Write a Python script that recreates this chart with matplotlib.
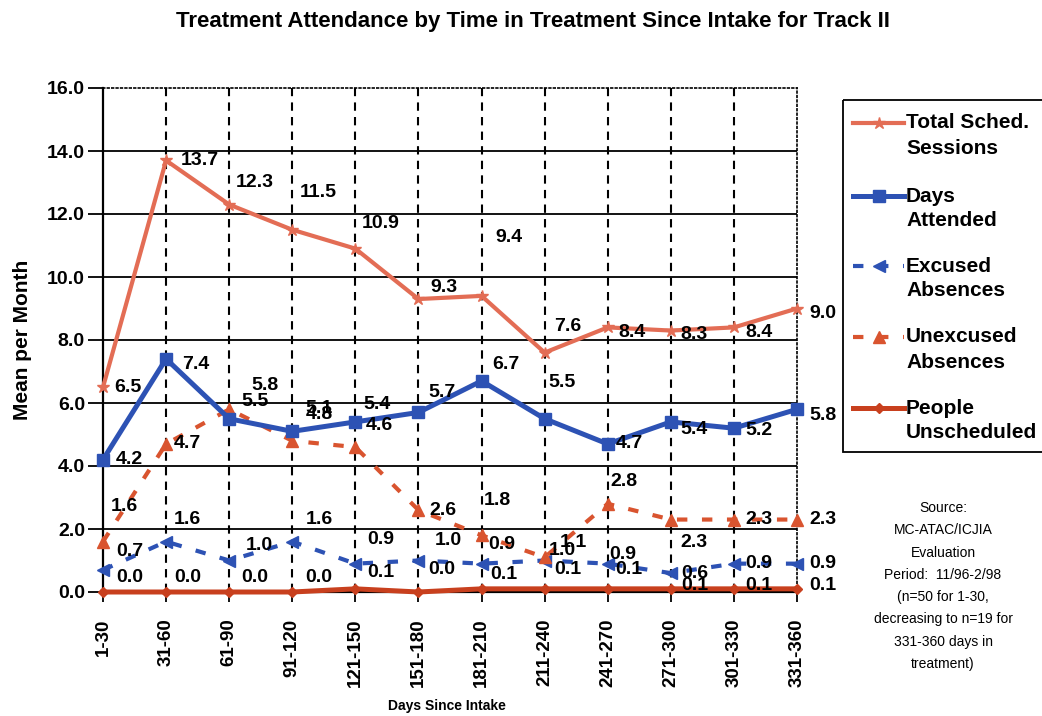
import matplotlib
matplotlib.use('Agg')
import matplotlib.pyplot as plt
from matplotlib.lines import Line2D
from matplotlib.patches import Rectangle

# ---------------- data ----------------
categories = ['1-30', '31-60', '61-90', '91-120', '121-150', '151-180',
              '181-210', '211-240', '241-270', '271-300', '301-330', '331-360']
total_sched = [6.5, 13.7, 12.3, 11.5, 10.9, 9.3, 9.4, 7.6, 8.4, 8.3, 8.4, 9.0]
days_attended = [4.2, 7.4, 5.5, 5.1, 5.4, 5.7, 6.7, 5.5, 4.7, 5.4, 5.2, 5.8]
excused_abs = [0.7, 1.6, 1.0, 1.6, 0.9, 1.0, 0.9, 1.0, 0.9, 0.6, 0.9, 0.9]
unexcused_abs = [1.6, 4.7, 5.8, 4.8, 4.6, 2.6, 1.8, 1.1, 2.8, 2.3, 2.3, 2.3]
people_unsched = [0.0, 0.0, 0.0, 0.0, 0.1, 0.0, 0.1, 0.1, 0.1, 0.1, 0.1, 0.1]
y_ticks = [0, 2, 4, 6, 8, 10, 12, 14, 16]

title = 'Treatment Attendance by Time in Treatment Since Intake for Track II'
legend_labels = [('Total Sched.', 'Sessions'), ('Days', 'Attended'),
                 ('Excused', 'Absences'), ('Unexcused', 'Absences'),
                 ('People', 'Unscheduled')]
source_text = ('Source:\nMC-ATAC/ICJIA\nEvaluation\nPeriod:  11/96-2/98\n'
               '(n=50 for 1-30,\ndecreasing to n=19 for\n331-360 days in\ntreatment)')

# ---------------- styles ----------------
C_TOTAL = '#E36D55'
C_DAYS = '#2D52B4'
C_EXC = '#2D52B4'
C_UNEXC = '#D9542F'
C_UNSCH = '#C8401E'

# label offsets (pixels: dx to label's left edge, dy upward)
off_total = [(11, 0), (15, 0), (7, 22), (7, 37), (6, 25), (12, 12), (14, 58),
             (9, 26), (11, -5), (10, -4), (11, -5), (12, -5)]
off_days = [(13, 0), (16, -6), (12, 17), (13, 23), (8, 17), (10, 20), (11, 16),
            (4, 36), (8, 0), (10, -8), (11, -2), (12, -6)]
off_exc = [(13, 18), (8, 22), (17, 15), (13, 22), (12, 24), (16, 20), (7, 19),
           (4, 10), (2, 9), (10, 0), (11, 0), (12, 0)]
off_unexc = [(8, 35), (8, 0), (22, 24), (13, 26), (10, 22), (11, 0), (2, 35),
             (15, 15), (3, 22), (10, -23), (11, 0), (12, 0)]
off_unsch = [(13, 14), (8, 14), (12, 14), (13, 14), (12, 16), (10, 22), (9, 14),
             (10, 19), (8, 19), (10, 3), (11, 3), (12, 3)]

SANS = ['Liberation Sans', 'DejaVu Sans']
plt.rcParams['font.family'] = SANS

W, H = 1042, 716
fig = plt.figure(figsize=(W / 100, H / 100), dpi=100)
fig.patch.set_facecolor('white')

x0, x1, ytop, ybot = 103, 797, 88, 592
ax = fig.add_axes([x0 / W, 1 - ybot / H, (x1 - x0) / W, (ybot - ytop) / H])
xs = list(range(len(categories)))
ax.set_xlim(0, len(categories) - 1)
ax.set_ylim(y_ticks[0], y_ticks[-1])

# grid
for yv in y_ticks[1:-1]:
    ax.axhline(yv, color='black', lw=1.3, zorder=1)
for xv in xs[1:-1]:
    ax.axvline(xv, color='black', lw=1.5, ls=(0, (4, 3)), zorder=1)

for side in ['top', 'right']:
    ax.spines[side].set_linestyle(':')
    ax.spines[side].set_linewidth(1.2)
ax.spines['left'].set_linewidth(1.6)
ax.spines['bottom'].set_linewidth(1.6)

ax.set_yticks(y_ticks)
ax.set_yticklabels(['%.1f' % v for v in y_ticks], fontsize=14, fontweight='bold')
ax.set_xticks(xs)
ax.set_xticklabels(categories, rotation=90, fontsize=13.5, fontweight='bold', va='top')
ax.tick_params(axis='y', direction='out', length=11, width=1.3, pad=2)
ax.tick_params(axis='x', direction='out', length=7, width=1.3, pad=12)

# series
ax.plot(xs, total_sched, color=C_TOTAL, lw=3, marker='*', ms=9, mec=C_TOTAL,
        clip_on=False, zorder=5)
ax.plot(xs, days_attended, color=C_DAYS, lw=3.6, marker='s', ms=8, clip_on=False, zorder=6)
ax.plot(xs, excused_abs, color=C_EXC, lw=3, ls=(0, (2.5, 3.5)), marker='<', ms=8,
        clip_on=False, zorder=5)
ax.plot(xs, unexcused_abs, color=C_UNEXC, lw=3, ls=(0, (2.5, 3.5)), marker='^', ms=8,
        clip_on=False, zorder=5)
ax.plot(xs, people_unsched, color=C_UNSCH, lw=3.6, marker='D', ms=5, clip_on=False, zorder=7)

# data labels
for vals, offs in [(total_sched, off_total), (days_attended, off_days),
                   (excused_abs, off_exc), (unexcused_abs, off_unexc),
                   (people_unsched, off_unsch)]:
    for xi, v, (dx, dy) in zip(xs, vals, offs):
        ax.annotate('%.1f' % v, (xi, v), xytext=(dx, dy), textcoords='offset pixels',
                    ha='left', va='center', fontsize=14, fontweight='bold',
                    color='black', zorder=8, annotation_clip=False)

ax.set_ylabel('Mean per Month', fontsize=15, fontweight='bold')
ax.yaxis.set_label_coords(-(103 - 32) / (x1 - x0), 0.5)
ax.set_xlabel('Days Since Intake', fontsize=10, fontweight='bold', va='center')
ax.xaxis.set_label_coords((447 - x0) / (x1 - x0), -(706 - ybot) / (ybot - ytop))

fig.text(533 / W, 1 - 22 / H, title, ha='center', va='center', fontsize=16,
         fontweight='bold')

# overlay for legend & source
ov = fig.add_axes([0, 0, 1, 1], zorder=10)
ov.set_xlim(0, W)
ov.set_ylim(H, 0)
ov.axis('off')
ov.patch.set_alpha(0)

ov.add_patch(Rectangle((843, 100), 260, 352, fill=False, edgecolor='black', lw=1.3))
key_styles = [
    dict(color=C_TOTAL, lw=3, marker='*', ms=9),
    dict(color=C_DAYS, lw=3.6, marker='s', ms=8),
    dict(color=C_EXC, lw=3, ls=(0, (2.5, 3.5)), marker='<', ms=8),
    dict(color=C_UNEXC, lw=3, ls=(0, (2.5, 3.5)), marker='^', ms=8),
    dict(color=C_UNSCH, lw=3.6, marker='D', ms=5),
]
entry_y = [123, 196, 266, 337, 408]
for (l1, l2), st, yy in zip(legend_labels, key_styles, entry_y):
    ov.add_line(Line2D([853, 879, 904], [yy, yy, yy], markevery=[1], **st))
    ov.text(906, yy, l1, ha='left', va='center', fontsize=15, fontweight='bold')
    ov.text(906, yy + 25, l2, ha='left', va='center', fontsize=15, fontweight='bold')

ov.text(943, 586, source_text, ha='center', va='center', fontsize=10,
        linespacing=1.75)

fig.savefig('out.png', dpi=100)
